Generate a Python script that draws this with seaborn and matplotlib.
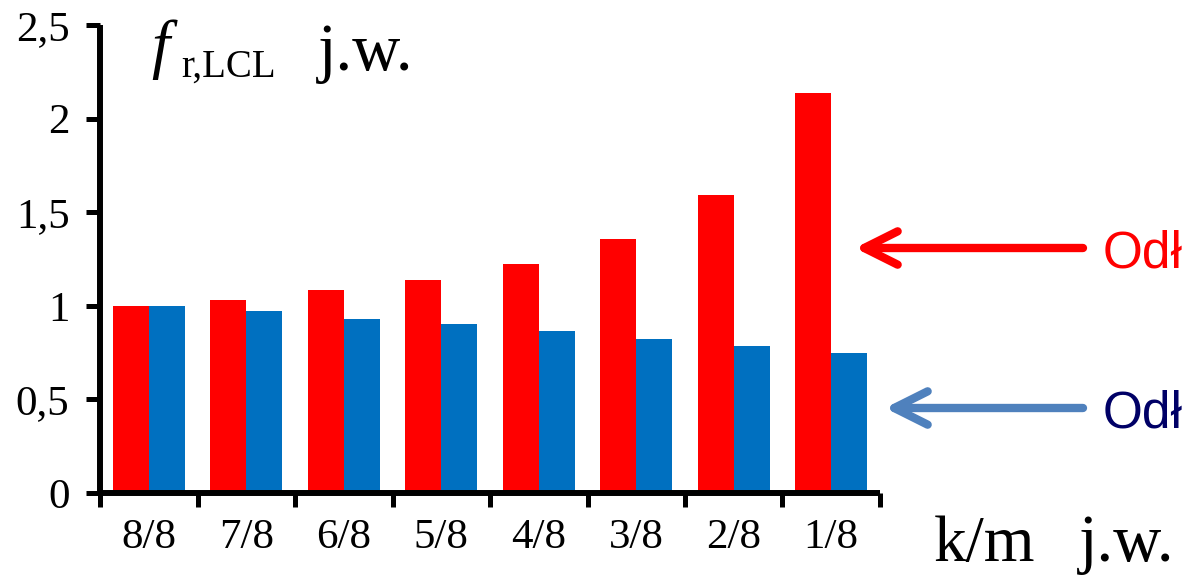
"""
f_r,LCL vs k/m - grouped bar chart
"""

import pandas as pd
import matplotlib
matplotlib.use("Agg")
import matplotlib.pyplot as plt
import matplotlib.ticker as mticker
from matplotlib.patches import FancyArrowPatch, ArrowStyle
import seaborn as sns

# ---------------------------------------------------------------------
# DATA
# ---------------------------------------------------------------------
categories = ["8/8", "7/8", "6/8", "5/8", "4/8", "3/8", "2/8", "1/8"]
red_values = [1.00, 1.03, 1.085, 1.14, 1.225, 1.355, 1.59, 2.135]
blue_values = [1.00, 0.97, 0.93, 0.903, 0.865, 0.825, 0.787, 0.748]
series_names = ["red", "blue"]
y_ticks = [0, 0.5, 1, 1.5, 2, 2.5]

RED = "#ff0000"
BLUE = "#0070c0"

df = pd.DataFrame({
    "k": categories * 2,
    "f": red_values + blue_values,
    "series": [series_names[0]] * len(categories) + [series_names[1]] * len(categories),
})

# ---------------------------------------------------------------------
# STYLE
# ---------------------------------------------------------------------
sns.set_style("ticks", {"axes.edgecolor": "black", "xtick.color": "black",
                        "ytick.color": "black", "text.color": "black"})
plt.rcParams["font.family"] = ["Liberation Serif", "DejaVu Serif"]

W, H = 1182, 576
fig = plt.figure(figsize=(W / 100, H / 100), dpi=100)
ax = fig.add_axes([100 / W, 1 - 493 / H, 780 / W, (493 - 25) / H])

sns.barplot(data=df, x="k", y="f", hue="series", palette=[RED, BLUE],
            width=0.74, saturation=1, legend=False, ax=ax,
            edgecolor="none", linewidth=0)

ax.set_xlim(-0.5, len(categories) - 0.5)
ax.set_ylim(0, 2.5)
ax.set_yticks(y_ticks)
ax.yaxis.set_major_formatter(mticker.FuncFormatter(
    lambda v, p: ("%g" % v).replace(".", ",")))

# x ticks between groups, labels at group centres
ax.set_xticks(range(len(categories)))
ax.set_xticklabels(categories)
ax.set_xticks([i - 0.5 for i in range(len(categories) + 1)], minor=True)
ax.tick_params(axis="x", which="major", length=0, pad=18, labelsize=31,
               labelcolor="black")
ax.tick_params(axis="x", which="minor", length=10, width=3.6, direction="out",
               color="black")
ax.tick_params(axis="y", length=10, width=3.6, direction="out", pad=12,
               labelsize=31, color="black", labelcolor="black")

for side in ["top", "right"]:
    ax.spines[side].set_visible(False)
for side in ["left", "bottom"]:
    ax.spines[side].set_linewidth(4.3)
    ax.spines[side].set_color("black")
    ax.spines[side].set_capstyle("butt")

ax.set_xlabel("")
ax.set_ylabel("")

# ---------------------------------------------------------------------
# ANNOTATIONS
# ---------------------------------------------------------------------
def fx(px):
    return px / W


def fy(py):
    return 1 - py / H


fig.text(fx(151), fy(66), "f", fontsize=47, style="italic", va="baseline")
fig.text(fx(181), fy(77), "r,LCL", fontsize=28, va="baseline")
fig.text(fx(318), fy(70), "j.w.", fontsize=48, va="baseline")
fig.text(fx(934), fy(561), "k/m", fontsize=47, va="baseline")
fig.text(fx(1079), fy(561), "j.w.", fontsize=48, va="baseline")

fig.text(fx(1103), fy(267), "Odł", fontsize=37, color=RED, va="baseline",
         family=["Liberation Sans", "DejaVu Sans"])
fig.text(fx(1103), fy(427), "Odł", fontsize=37, color="#000066", va="baseline",
         family=["Liberation Sans", "DejaVu Sans"])

arrow_style = ArrowStyle("->", head_length=24, head_width=12)
for x0, x1, y, col in [(1083, 855, 248, RED), (1083, 885, 408, "#4f81bd")]:
    arr = FancyArrowPatch((fx(x0), fy(y)), (fx(x1), fy(y)), transform=fig.transFigure,
                          arrowstyle=arrow_style, color=col, lw=6,
                          capstyle="round", joinstyle="round",
                          shrinkA=0, shrinkB=0, mutation_scale=1)
    fig.add_artist(arr)

plt.savefig("out.png", dpi=100)
